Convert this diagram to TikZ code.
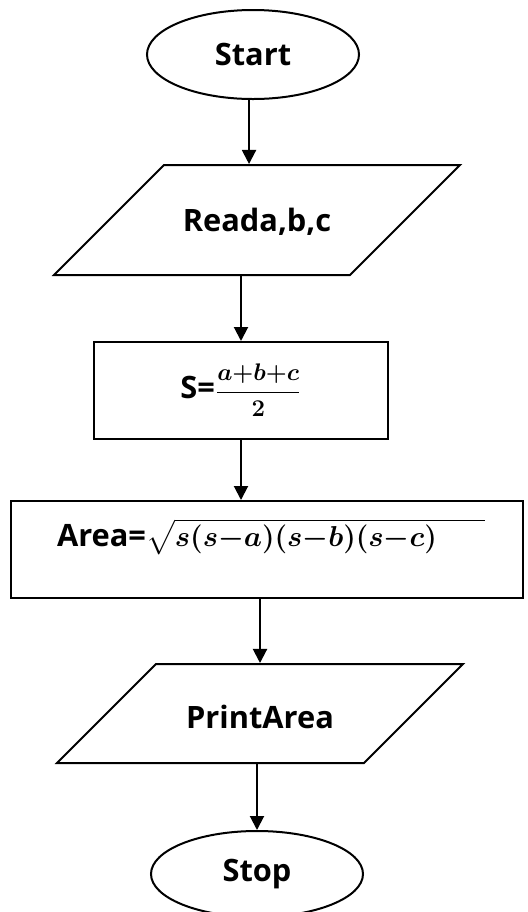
\documentclass[tikz,border=0pt]{standalone}
\usepackage{amsmath}
\usepackage[no-math]{fontspec}
\setmainfont{Open Sans}
\usetikzlibrary{arrows.meta, shapes.geometric}
\definecolor{flowInk}{HTML}{000000}

\begin{document}
\begin{tikzpicture}[
  x=0.5pt, y=-0.5pt,
  font=\fontsize{15.4}{18}\selectfont\bfseries,
  term/.style={ellipse, draw=flowInk, line width=1pt, inner sep=0pt,
               minimum width=106pt, minimum height=44.5pt},
  io/.style={trapezium, trapezium left angle=45, trapezium right angle=135,
             trapezium stretches body, draw=flowInk, line width=1pt,
             text height=14pt, text depth=3pt, inner xsep=0pt,
             minimum width=203pt},
  proc/.style={rectangle, draw=flowInk, line width=1pt, inner sep=0pt,
               minimum height=48.5pt},
  flow/.style={draw=flowInk, line width=1pt, -{Triangle[length=7pt, width=7pt]}},
]
\clip (0,0) rectangle (527,912);

% ============================ the boxes =====================================
\node[term] (start) at (253,54.5) {Start};
% height = text box + twice the ysep, the slant keeps 45 degrees
\node[io, inner ysep=19pt] (read) at (257,220) {Reada,b,c};
\node[proc, minimum width=147pt] (half) at (241,390.5)
  {S={\fontsize{12.5}{14}\selectfont\boldmath$\dfrac{a{+}b{+}c}{2}$}};
% the formula sits above the middle of its box
\node[proc, minimum width=256pt] (area) at (267,549.5) {};
\node (areatext) at (271,537)
  {Area={\fontsize{14}{16}\selectfont\boldmath$\sqrt{s(s{-}a)(s{-}b)(s{-}c)\hspace{24pt}}$}};
\node[io, text height=17.5pt, inner ysep=14.5pt] (print) at (260,713.5) {PrintArea};
\node[term, minimum height=43pt] (stop) at (257,874) {Stop};

% ============================ the arrows ====================================
\draw[flow] (start.265) -- (start.265 |- read.north);
\draw[flow] (half.north |- read.south) -- (half.north);
\draw[flow] (half.south) -- (half.south |- area.north);
\draw[flow] (print.north |- area.south) -- (print.north);
\draw[flow] (stop.north |- print.south) -- (stop.north);
\end{tikzpicture}
\end{document}
